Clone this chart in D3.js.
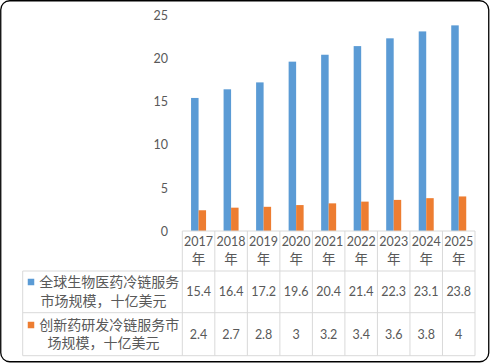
<!DOCTYPE html>
<html>
<head>
<meta charset="utf-8">
<script src="https://cdn.jsdelivr.net/npm/d3@7"></script>
<style>
  body { margin: 0; background: #fff; }
  svg { display: block; }
</style>
</head>
<body>
<div id="chart"></div>
<script>
// chart data
var years = ["2017年", "2018年", "2019年", "2020年", "2021年", "2022年", "2023年", "2024年", "2025年"];
var seriesNames = ["全球生物医药冷链服务市场规模，十亿美元", "创新药研发冷链服务市场规模，十亿美元"];
var globalValues = [15.4, 16.4, 17.2, 19.6, 20.4, 21.4, 22.3, 23.1, 23.8];
var innovValues = [2.4, 2.7, 2.8, 3, 3.2, 3.4, 3.6, 3.8, 4];
var yTicks = [0, 5, 10, 15, 20, 25];

var colors = ["#5B9BD5", "#ED7D31"];
var seriesValues = [globalValues, innovValues];

var svgWidth = 490, svgHeight = 363;
var textColor = "#595959";
var gridColor = "#d9d9d9";
var numFont = "Lato, 'Liberation Sans', sans-serif";
var cjkFont = "'Noto Sans CJK SC', sans-serif";

var svg = d3.select("#chart").append("svg")
    .attr("width", svgWidth)
    .attr("height", svgHeight);

// outer frame
svg.append("rect")
    .attr("x", 0.75).attr("y", 0.75)
    .attr("width", svgWidth - 2).attr("height", svgHeight - 2)
    .attr("rx", 9).attr("ry", 9)
    .attr("fill", "#fff")
    .attr("stroke", "#000")
    .attr("stroke-width", 1.3);

var plotLeft = 182.3, plotRight = 475;
var legendLeft = 22.7;
var rowY = [231, 271, 312.7, 355.7];

var x = d3.scaleBand()
    .domain(years)
    .range([plotLeft, plotRight]);

var y = d3.scaleLinear()
    .domain([0, 25])
    .range([231, 15]);

var barW = 7.5;

// y axis labels (no axis line)
var yAxis = d3.axisLeft(y).tickValues(yTicks).tickSize(0).tickPadding(0);
var yG = svg.append("g")
    .attr("transform", "translate(168,0)")
    .call(yAxis);
yG.select(".domain").remove();
yG.selectAll("text")
    .attr("fill", textColor)
    .attr("font-family", numFont)
    .attr("font-size", 12.5)
    .attr("dy", "0.35em");

// bars
seriesValues.forEach(function(vals, i) {
    svg.append("g").selectAll("rect")
        .data(vals)
        .enter()
        .append("rect")
        .attr("x", (d, j) => x(years[j]) + x.bandwidth() / 2 - barW + i * barW)
        .attr("y", d => y(d))
        .attr("width", barW)
        .attr("height", d => y(0) - y(d))
        .attr("fill", colors[i]);
});

// data table grid
var grid = svg.append("g")
    .attr("stroke", gridColor)
    .attr("stroke-width", 1);

grid.append("line")
    .attr("x1", plotLeft).attr("x2", plotRight)
    .attr("y1", rowY[0]).attr("y2", rowY[0]);
rowY.slice(1).forEach(function(yy) {
    grid.append("line")
        .attr("x1", legendLeft).attr("x2", plotRight)
        .attr("y1", yy).attr("y2", yy);
});
grid.append("line")
    .attr("x1", legendLeft).attr("x2", legendLeft)
    .attr("y1", rowY[1]).attr("y2", rowY[3]);
years.forEach(function(yr) {
    grid.append("line")
        .attr("x1", x(yr)).attr("x2", x(yr))
        .attr("y1", rowY[0]).attr("y2", rowY[3]);
});
grid.append("line")
    .attr("x1", plotRight).attr("x2", plotRight)
    .attr("y1", rowY[0]).attr("y2", rowY[3]);

// header row: year + 年
var header = svg.append("g");
years.forEach(function(yr) {
    var cx = x(yr) + x.bandwidth() / 2;
    header.append("text")
        .attr("x", cx).attr("y", 242)
        .attr("dy", "0.35em")
        .attr("text-anchor", "middle")
        .attr("font-family", numFont)
        .attr("font-size", 12.5)
        .attr("fill", textColor)
        .text(yr.slice(0, 4));
    header.append("text")
        .attr("x", cx).attr("y", 259.5)
        .attr("dy", "0.35em")
        .attr("text-anchor", "middle")
        .attr("font-family", cjkFont)
        .attr("font-size", 13.5)
        .attr("fill", textColor)
        .text(yr.slice(4));
});

// value rows
var valueY = [292, 334.5];
seriesValues.forEach(function(vals, i) {
    svg.append("g").selectAll("text")
        .data(vals)
        .enter()
        .append("text")
        .attr("x", (d, j) => x(years[j]) + x.bandwidth() / 2)
        .attr("y", valueY[i])
        .attr("dy", "0.35em")
        .attr("text-anchor", "middle")
        .attr("font-family", numFont)
        .attr("font-size", 12.5)
        .attr("fill", textColor)
        .text(d => d);
});

// legend cells (wrapped at 10 characters)
var legendLineY = [[282, 301], [325, 343.5]];
var cellCenter = (legendLeft + plotLeft) / 2;
var fs = 14, sw = 6.5, gap = 5;
seriesNames.forEach(function(name, i) {
    var line1 = name.slice(0, 10);
    var line2 = name.slice(10);
    var w1 = sw + gap + line1.length * fs;
    var startX = cellCenter - w1 / 2 + 1;
    svg.append("rect")
        .attr("x", startX)
        .attr("y", legendLineY[i][0] - sw / 2)
        .attr("width", sw).attr("height", sw)
        .attr("fill", colors[i]);
    svg.append("text")
        .attr("x", startX + sw + gap)
        .attr("y", legendLineY[i][0])
        .attr("dy", "0.35em")
        .attr("font-family", cjkFont)
        .attr("font-size", fs)
        .attr("fill", textColor)
        .text(line1);
    svg.append("text")
        .attr("x", cellCenter + 1)
        .attr("y", legendLineY[i][1])
        .attr("dy", "0.35em")
        .attr("text-anchor", "middle")
        .attr("font-family", cjkFont)
        .attr("font-size", fs)
        .attr("fill", textColor)
        .text(line2);
});
</script>
</body>
</html>
